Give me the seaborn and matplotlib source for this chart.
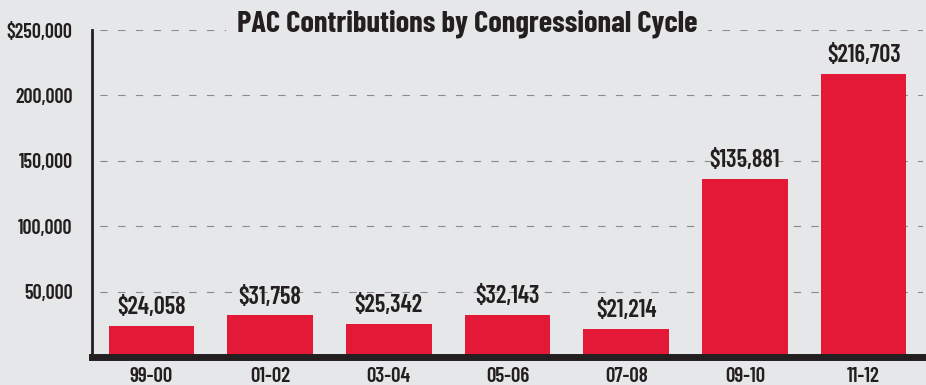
import matplotlib
matplotlib.use("Agg")
import matplotlib.pyplot as plt
import seaborn as sns
import pandas as pd

cycles = ["99-00", "01-02", "03-04", "05-06", "07-08", "09-10", "11-12"]
amounts = [24058, 31758, 25342, 32143, 21214, 135881, 216703]
ytick_values = [50000, 100000, 150000, 200000, 250000]
ytick_labels = ["50,000", "100,000", "150,000", "200,000", "$250,000"]
title = "PAC Contributions by Congressional Cycle"

BG = "#e6e7e8"
RED = "#e41937"
INK = "#231f20"

sns.set_theme(style="white")
plt.rcParams["font.family"] = ["Barlow Condensed", "DejaVu Sans"]

df = pd.DataFrame({"cycle": cycles, "amount": amounts})

fig = plt.figure(figsize=(9.26, 3.85), dpi=100, facecolor=BG)
ax = fig.add_axes([92/926, 28/385, 831/926, 327/385])
ax.set_facecolor(BG)

sns.barplot(data=df, x="cycle", y="amount", color=RED, saturation=1, width=0.72,
            linewidth=0, edgecolor="none", ax=ax, zorder=3)

ax.set_xlim(-0.5, 6.5)
ax.set_ylim(0, 250000)
ax.set_yticks(ytick_values)
ax.set_yticklabels(ytick_labels)
ax.set_xlabel("")
ax.set_ylabel("")

for lbl in ax.get_yticklabels():
    lbl.set_fontsize(14.5)
    lbl.set_fontweight("semibold")
    lbl.set_color(INK)
for lbl in ax.get_xticklabels():
    lbl.set_fontsize(15)
    lbl.set_fontweight("semibold")
    lbl.set_color(INK)
ax.tick_params(axis="y", length=0, pad=14)
ax.tick_params(axis="x", length=0, pad=7)

ax.yaxis.grid(True, linestyle=(9, (6.7, 9.3)), color="#8a8b8d", linewidth=0.8, zorder=0)
ax.xaxis.grid(False)
ax.set_axisbelow(True)

for s in ["top", "right"]:
    ax.spines[s].set_visible(False)
ax.spines["left"].set_color(INK)
ax.spines["left"].set_linewidth(2)
ax.spines["bottom"].set_color(INK)
ax.spines["bottom"].set_linewidth(5)
ax.spines["bottom"].set_zorder(5)

for container in ax.containers:
    ax.bar_label(container, labels=[f"${v:,.0f}" for v in amounts], padding=5,
                 fontsize=17.5, fontweight="semibold", color=INK)

fig.text(467/926, 1 - 24/385, title, ha="center", va="center", fontsize=22,
         fontweight="bold", color=INK,
         bbox=dict(facecolor=BG, edgecolor="none", pad=8))

fig.savefig("out.png", dpi=100, facecolor=BG)
